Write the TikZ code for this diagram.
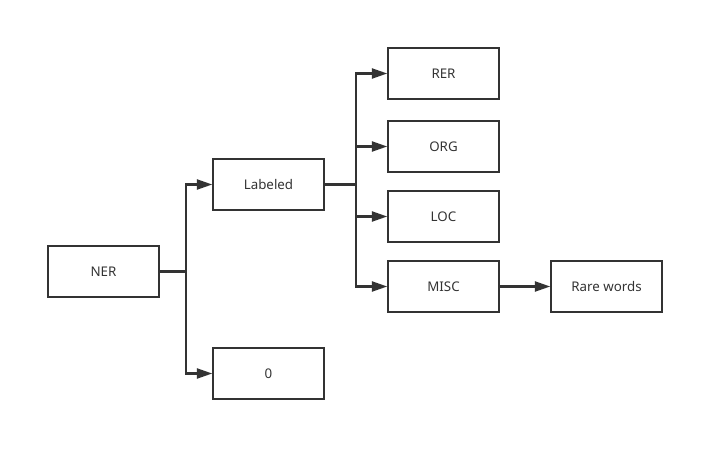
\documentclass[tikz,border=0pt]{standalone}
\usepackage{fontspec}
\setmainfont{Noto Sans}
\usetikzlibrary{arrows.meta}
\definecolor{linegray}{HTML}{333333}

\begin{document}
\begin{tikzpicture}[x=0.75pt,y=-0.75pt,
    box/.style={draw=linegray, line width=1.4pt, rectangle, minimum width=83pt, minimum height=38pt, inner sep=0pt, text=linegray, font=\fontsize{10}{12}\selectfont},
    link/.style={draw=linegray, line width=1.6pt, -{Triangle[length=11.5pt,width=7.5pt]}}]
\useasboundingbox (0,0) rectangle (724,460);

\node[box] (ner) at (103.5,271.5) {NER};
\node[box] (lab) at (268.5,184.5) {Labeled};
\node[box] (zero) at (268.5,373.5) {0};

\node[box] (rer) at (443.5,73.5) {RER};
\node[box] (org) at (443.5,146.5) {ORG};
\node[box] (loc) at (443.5,216.5) {LOC};
\node[box] (misc) at (443.5,286.5) {MISC};

\node[box] (rare) at (606.5,286.5) {Rare words};

% branch points
\coordinate (b1) at (186,271.5);
\coordinate (b2) at (356,184.5);

\draw[link] (ner) -- (b1) |- (lab);
\draw[link] (ner) -- (b1) |- (zero);

\draw[link] (lab) -- (b2) |- (rer);
\draw[link] (lab) -- (b2) |- (org);
\draw[link] (lab) -- (b2) |- (loc);
\draw[link] (lab) -- (b2) |- (misc);

\draw[link] (misc) -- (rare);
\end{tikzpicture}
\end{document}
